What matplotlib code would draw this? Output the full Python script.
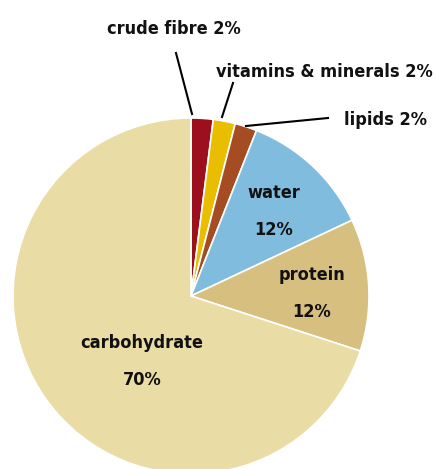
import matplotlib
matplotlib.use("Agg")
import matplotlib.pyplot as plt

# data
labels = ["crude fibre", "vitamins & minerals", "lipids", "water", "protein", "carbohydrate"]
shares = [2, 2, 2, 12, 12, 70]
colors = ["#9c0f1c", "#e9be00", "#a54c23", "#80bcdd", "#d6bf7f", "#eadca5"]

W, H = 436, 469
fig = plt.figure(figsize=(W / 100, H / 100), dpi=100)
ax = fig.add_axes([0, 0, 1, 1])

cx, cy, r = 191, H - 296, 178
ax.pie(shares, colors=colors, startangle=90, counterclock=False,
       center=(cx, cy), radius=r, frame=True,
       wedgeprops=dict(edgecolor="white", linewidth=1.2))
ax.set_xlim(0, W)
ax.set_ylim(0, H)
ax.set_aspect("equal")
ax.axis("off")

font = dict(family="DejaVu Sans", stretch="condensed", weight="bold",
            fontsize=13, color="#111111")

# labels inside the pie
ax.text(274, H - 193, labels[3], ha="center", va="center", **font)
ax.text(274, H - 230, "%d%%" % shares[3], ha="center", va="center", **font)
ax.text(312, H - 275, labels[4], ha="center", va="center", **font)
ax.text(312, H - 312, "%d%%" % shares[4], ha="center", va="center", **font)
ax.text(142, H - 343, labels[5], ha="center", va="center", **font)
ax.text(142, H - 380, "%d%%" % shares[5], ha="center", va="center", **font)

# labels outside with leader lines
ax.text(174, H - 29, "%s %d%%" % (labels[0], shares[0]), ha="center", va="center", **font)
ax.plot([176, 192], [H - 53, H - 114], color="black", lw=1.5)
ax.text(433, H - 72, "%s %d%%" % (labels[1], shares[1]), ha="right", va="center", **font)
ax.plot([233, 222], [H - 83, H - 117], color="black", lw=1.5)
ax.text(344, H - 120, "%s %d%%" % (labels[2], shares[2]), ha="left", va="center", **font)
ax.plot([328, 246], [H - 118, H - 126], color="black", lw=1.5)

fig.savefig("out.png", dpi=100)
